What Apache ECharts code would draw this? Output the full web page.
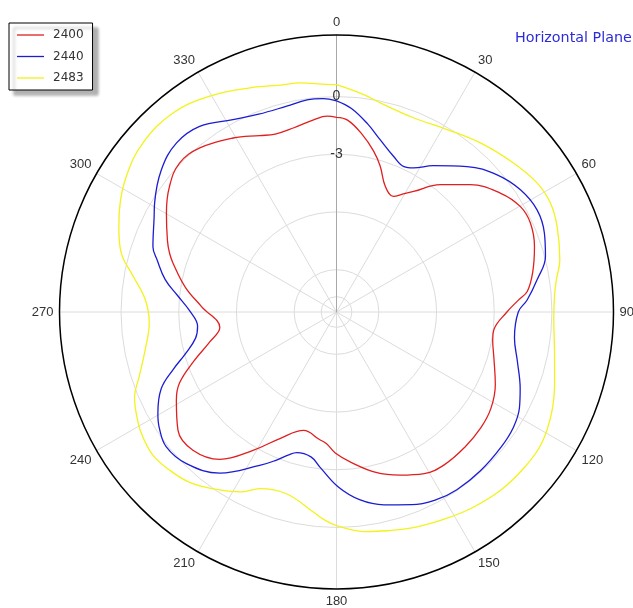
<!DOCTYPE html>
<html>
<head>
<meta charset="utf-8">
<script src="https://cdn.jsdelivr.net/npm/echarts@6/dist/echarts.min.js"></script>
<style>
html,body{margin:0;padding:0;background:#fff;}
#chart{width:633px;height:608px;}
</style>
</head>
<body>
<div id="chart"></div>
<script>
// Angle ticks (degrees) and radial ring / label values (dB)
var angleTicks = [0, 30, 60, 90, 120, 150, 180, 210, 240, 270, 300, 330];
var ringValues = [-10.4, -9, -6, -3, 0];
var ringLabels = [-3, 0];
var seriesNames = ['2400', '2440', '2483'];

// 2400 MHz: angle (deg) and gain (dB)
var angle2400 = [0, 3.3, 8, 13, 16.7, 21.2, 26.2, 29.5, 32.6, 39.2, 46.4, 54, 60.2, 65.4, 71.7, 78.5, 83.8, 86.2, 90, 96.5, 100.2, 106.2, 114.6, 121.9, 128.7, 136.5, 144.7, 151.5, 158.7, 166.2, 174.3, 180.5, 184.3, 187.8, 195.5, 204.1, 211.1, 218.4, 226.1, 233.3, 241.2, 245.7, 250.9, 256.7, 262.4, 272.2, 279.2, 286.4, 289.4, 292.9, 300.2, 306.9, 313.5, 320.2, 329.3, 336.5, 341, 347, 353, 357.3, 360];
var gain2400  = [-1.08, -1.21, -1.84, -2.62, -3.29, -4.19, -4.5, -4.15, -3.76, -2.66, -1.6, -0.68, -0.18, -0.11, -0.36, -0.79, -1.22, -1.71, -2.34, -2.97, -2.95, -2.68, -2.12, -1.74, -1.58, -1.51, -1.48, -1.64, -2.1, -2.61, -3.33, -3.87, -4.33, -4.52, -4.81, -3.99, -2.8, -1.43, -0.84, -0.92, -1.7, -2.25, -3.34, -4.43, -5.08, -4.19, -3.25, -2.36, -2.0, -1.66, -0.97, -0.34, 0.05, -0.1, -0.68, -1.2, -1.42, -1.37, -1.15, -1.01, -1.08];

// 2440 MHz
var angle2440 = [0, 4.2, 9.4, 14.2, 20.1, 24.9, 28.1, 33.5, 41.9, 49.5, 56.4, 63, 69.2, 75.1, 80.9, 86.4, 90, 98.3, 105.3, 112.7, 117.7, 123.2, 129.4, 137.7, 145.9, 152, 158.6, 166.2, 173, 179.4, 186.1, 190, 195.8, 198.5, 202.6, 206.6, 215.9, 224.7, 231.6, 236.9, 240.4, 246.4, 250.7, 254.6, 259.5, 264.1, 270.5, 276, 280.7, 286.1, 289.6, 297.4, 300.9, 309.1, 316.6, 323.6, 331.7, 338.5, 346.4, 352.1, 356.4, 360];
var gain2440  = [-0.22, -0.59, -1.29, -1.96, -2.58, -2.87, -2.71, -2.08, -1.04, -0.22, 0.28, 0.5, 0.36, 0.04, -0.64, -1.27, -1.75, -1.85, -1.45, -0.85, -0.46, -0.22, -0.13, -0.06, -0.04, -0.15, -0.44, -0.88, -1.37, -2.1, -3.09, -3.55, -3.6, -3.37, -2.82, -2.28, -0.86, -0.11, 0.09, -0.2, -0.52, -1.26, -2.22, -3.06, -3.75, -3.94, -3.56, -2.88, -2.14, -1.5, -1.07, -0.52, -0.18, 0.53, 0.9, 0.79, 0.16, -0.15, -0.19, -0.07, -0.09, -0.22];

// 2483 MHz
var angle2483 = [0, 7, 11.8, 21.6, 31.2, 40.4, 50, 57.3, 63, 68.8, 76.9, 81.7, 85.6, 91.7, 99.8, 107.5, 114.9, 122.6, 129.3, 137.2, 145.1, 152.5, 159.7, 166.8, 173, 180, 183.7, 186.6, 195.4, 203.5, 207.7, 214.9, 220.9, 226.5, 232, 237.2, 241, 247.2, 251.8, 258.8, 266.8, 273.8, 280.1, 285.3, 290.9, 295.2, 302.8, 311.1, 320.6, 329.6, 338.9, 346.7, 350.9, 357.5, 360];
var gain2483  = [0.62, 0.2, -0.09, -0.34, -0.11, 0.34, 0.83, 1.2, 1.28, 1.1, 0.72, 0.35, 0.17, 0.1, 0.3, 0.69, 1.14, 1.46, 1.48, 1.4, 1.19, 0.94, 0.72, 0.48, 0.3, -0.1, -0.41, -0.73, -1.4, -1.19, -0.64, 0.01, 0.5, 0.75, 0.9, 0.78, 0.6, 0.19, -0.4, -1.06, -1.45, -1.23, -0.45, 0.4, 0.91, 1.27, 1.8, 2.16, 2.19, 1.81, 1.29, 0.93, 0.86, 0.64, 0.62];

function pairs(ang, val) {
  var out = [];
  for (var i = 0; i < ang.length; i++) out.push([val[i], ang[i]]);
  return out;
}

var chart = echarts.init(document.getElementById('chart'), null, {renderer: 'canvas'});
var colors = ['#e01f1f', '#1c1cd2', '#f2f21c'];
var datas = [pairs(angle2400, gain2400), pairs(angle2440, gain2440), pairs(angle2483, gain2483)];

chart.setOption({
  animation: false,
  backgroundColor: '#fff',
  title: {
    text: 'Horizontal Plane',
    left: 510, top: 26,
    textStyle: {color: '#2b2bd8', fontSize: 14.3, fontWeight: 'normal', fontFamily: 'DejaVu Sans'}
  },
  legend: {
    orient: 'vertical',
    left: 9, top: 23,
    data: seriesNames,
    icon: 'path://M0,0H27V1.3H0Z',
    backgroundColor: '#fff',
    borderColor: '#000', borderWidth: 1,
    shadowColor: 'rgba(0,0,0,0.3)', shadowBlur: 3, shadowOffsetX: 5, shadowOffsetY: 5,
    padding: [6, 9, 6, 8],
    itemWidth: 27, itemHeight: 10, itemGap: 9.5,
    textStyle: {color: '#333', fontSize: 12, fontFamily: 'DejaVu Sans', padding: [0, 0, 0, 4]}
  },
  polar: {center: [336.5, 312], radius: 277},
  angleAxis: {
    type: 'value', min: 0, max: 360, interval: 30, startAngle: 90, clockwise: true,
    axisLine: {show: true, lineStyle: {color: '#000', width: 1.5}},
    axisTick: {show: false},
    axisLabel: {
      margin: 6, color: '#333', fontSize: 13, fontFamily: 'Liberation Sans',
      customValues: angleTicks
    },
    splitLine: {show: true, lineStyle: {color: '#dcdcdc', width: 1}}
  },
  radiusAxis: {
    type: 'value', min: -11.2, max: 3.2,
    axisLine: {show: true, lineStyle: {color: '#a8a8a8', width: 1}},
    axisTick: {show: false, customValues: ringValues},
    axisLabel: {
      show: true, customValues: ringLabels, margin: 0,
      align: 'center', verticalAlign: 'middle',
      color: '#333', fontSize: 14, fontFamily: 'Liberation Sans'
    },
    splitLine: {show: true, lineStyle: {color: '#dcdcdc', width: 1}}
  },
  series: seriesNames.map(function (n, i) {
    return {
      name: n, type: 'line', coordinateSystem: 'polar',
      data: datas[i], symbol: 'none', smooth: 0.4,
      z: 3 - i,
      lineStyle: {color: colors[i], width: 1.3},
      itemStyle: {color: colors[i]}
    };
  })
});
</script>
</body>
</html>
